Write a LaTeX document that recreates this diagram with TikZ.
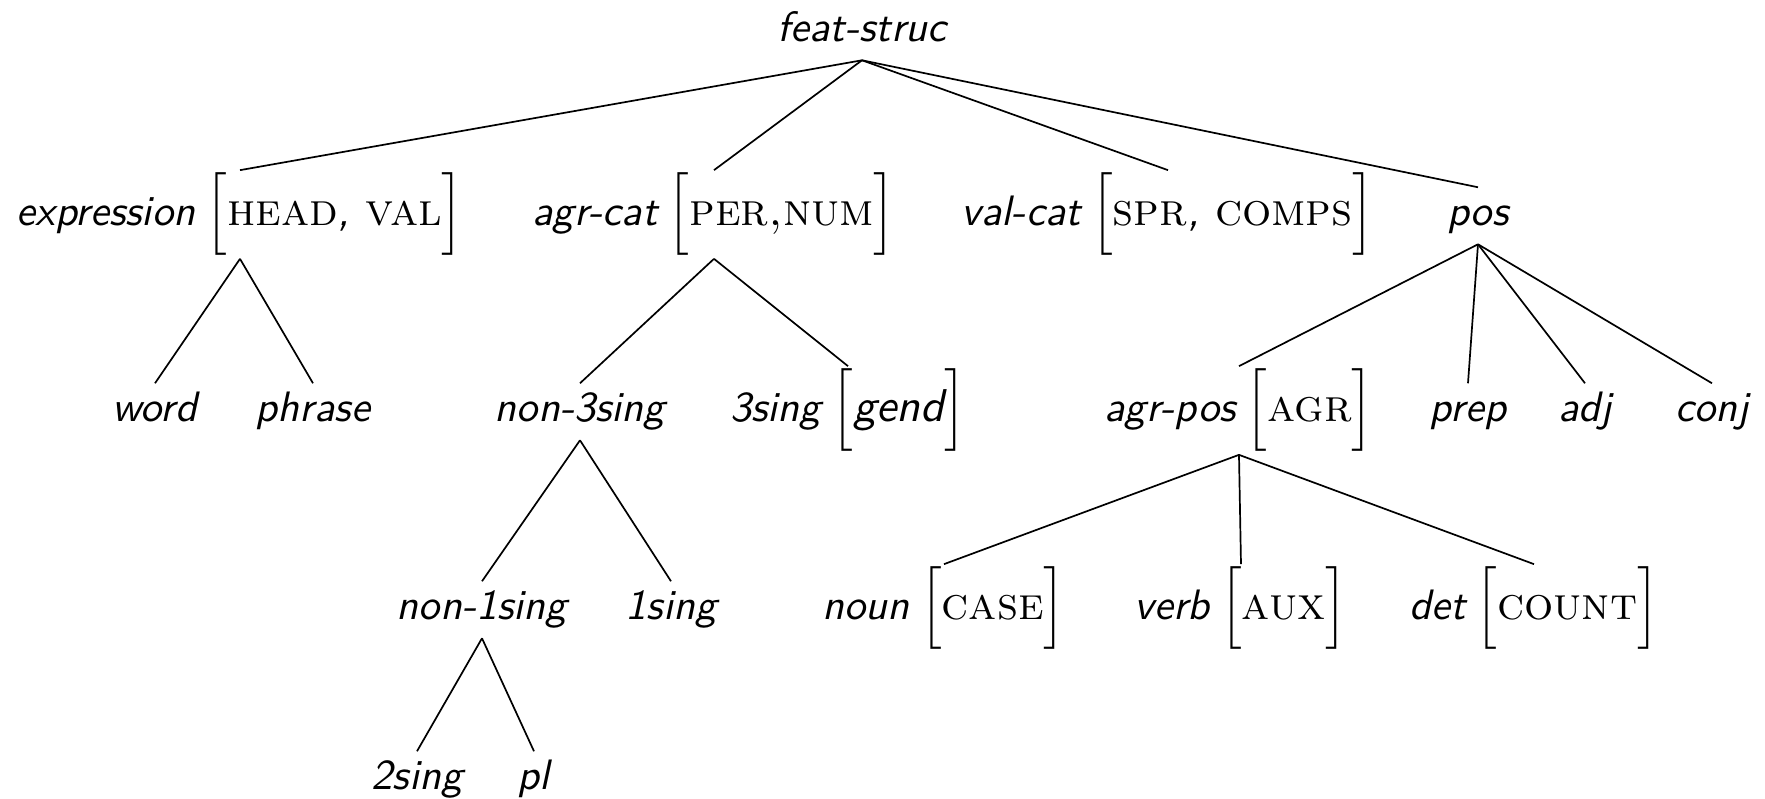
\documentclass[tikz,border=0pt]{standalone}
\usepackage{amsmath}
\usepackage{tikz}
\def\avm#1{\hspace{2.4pt}\scalebox{1.08}{$\Big[$#1$\Big]$}}
\def\feat#1{{\normalfont\scshape #1}}

\begin{document}
\begin{tikzpicture}[x=0.235pt,y=-0.235pt,
    lab/.style={font=\sffamily\itshape,anchor=base,inner sep=0.5pt,execute at begin node=\strut}]
  \useasboundingbox (0,0) rectangle (1765,799);
  \node[lab] (fs) at (862,42) {feat-struc};
  \node[lab] (expr) at (240,226) {expression\avm{\feat{head}, \feat{val}}};
  \node[lab] (agrcat) at (714,226) {agr-cat\avm{\feat{per,num}}};
  \node[lab] (valcat) at (1168,226) {val-cat\avm{\feat{spr}, \feat{comps}}};
  \node[lab] (pos) at (1478,226) {pos};
  \node[lab] (word) at (155,422) {word};
  \node[lab] (phrase) at (313,422) {phrase};
  \node[lab] (non3) at (580,422) {non-3sing};
  \node[lab] (sing3) at (848,422) {3sing\avm{gend}};
  \node[lab] (agrpos) at (1239,422) {agr-pos\avm{\feat{agr}}};
  \node[lab] (prep) at (1468,422) {prep};
  \node[lab] (adj) at (1585,422) {adj};
  \node[lab] (conj) at (1712,422) {conj};
  \node[lab] (non1) at (482,620) {non-1sing};
  \node[lab] (sing1) at (671,620) {1sing};
  \node[lab] (noun) at (944,620) {noun\avm{\feat{case}}};
  \node[lab] (verb) at (1241,620) {verb\avm{\feat{aux}}};
  \node[lab] (det) at (1534,620) {det\avm{\feat{count}}};
  \node[lab] (sing2) at (417,790) {2sing};
  \node[lab] (pl) at (534,790) {pl};
  \draw (fs.south) edge (expr.north) edge (agrcat.north) edge (valcat.north) edge (pos.north);
  \draw (expr.south) edge (word.north) edge (phrase.north);
  \draw (agrcat.south) edge (non3.north) edge (sing3.north);
  \draw (pos.south) edge (agrpos.north) edge (prep.north) edge (adj.north) edge (conj.north);
  \draw (non3.south) edge (non1.north) edge (sing1.north);
  \draw (agrpos.south) edge (noun.north) edge (verb.north) edge (det.north);
  \draw (non1.south) edge (sing2.north) edge (pl.north);
\end{tikzpicture}
\end{document}
